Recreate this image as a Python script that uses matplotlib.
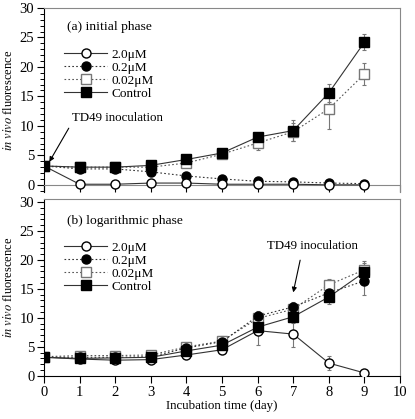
import matplotlib
matplotlib.use('Agg')
import matplotlib.pyplot as plt
from matplotlib.ticker import MultipleLocator

plt.rcParams['font.family'] = ['Liberation Serif', 'DejaVu Serif']
plt.rcParams['mathtext.fontset'] = 'stix'
plt.rcParams['font.size'] = 9

days = [0, 1, 2, 3, 4, 5, 6, 7, 8, 9]
labels = ['2.0\u03bcM', '0.2\u03bcM', '0.02\u03bcM', 'Control']

# (a) initial phase
a_20 = [3.2, 0.1, 0.1, 0.3, 0.3, 0.1, 0.1, 0.1, 0.0, 0.0]
a_02 = [3.2, 2.7, 2.7, 2.2, 1.5, 1.0, 0.6, 0.5, 0.3, 0.2]
a_002 = [3.2, 3.0, 3.0, 3.0, 3.7, 5.2, 7.1, 9.0, 12.9, 18.8]
a_ctl = [3.2, 3.0, 3.0, 3.3, 4.3, 5.4, 8.1, 9.2, 15.6, 24.2]
a_20_err = [0.2, 0.2, 0.2, 0.2, 0.2, 0.2, 0.2, 0.2, 0.2, 0.2]
a_02_err = [0.2, 0.3, 0.3, 0.3, 0.3, 0.4, 0.3, 0.3, 0.3, 0.3]
a_002_err = [0.3, 0.3, 0.3, 0.3, 0.4, 0.6, 1.2, 1.5, 3.4, 1.8]
a_ctl_err = [0.3, 0.3, 0.3, 0.3, 0.4, 0.5, 0.7, 1.8, 1.5, 1.3]

# (b) logarithmic phase
b_20 = [3.2, 2.9, 2.7, 2.8, 3.6, 4.5, 7.8, 7.2, 2.2, 0.5]
b_02 = [3.2, 3.2, 3.2, 3.3, 4.8, 5.9, 10.3, 11.9, 14.3, 16.4]
b_002 = [3.3, 3.5, 3.5, 3.6, 5.0, 6.0, 9.9, 11.5, 15.7, 18.3]
b_ctl = [3.2, 3.0, 3.1, 3.2, 4.3, 5.3, 8.4, 10.2, 13.6, 17.9]
b_20_err = [0.3, 0.4, 0.3, 0.3, 0.5, 0.8, 2.4, 2.2, 1.2, 0.3]
b_02_err = [0.3, 0.4, 0.4, 0.4, 0.6, 0.8, 0.8, 0.8, 1.2, 2.5]
b_002_err = [0.3, 0.4, 0.4, 0.4, 0.6, 0.8, 0.8, 0.8, 1.0, 1.5]
b_ctl_err = [0.3, 0.4, 0.4, 0.4, 0.6, 0.8, 1.0, 1.0, 1.2, 1.5]

styles = [
    dict(marker='o', mfc='white', mec='black', color='#333333', ls='-', ms=6.5, zorder=4),
    dict(marker='o', mfc='black', mec='black', color='#333333', ls=(0, (1.5, 2)), ms=6.5, zorder=3),
    dict(marker='s', mfc='white', mec='#777777', color='#555555', ls=(0, (1.5, 2)), ms=7, zorder=2),
    dict(marker='s', mfc='black', mec='black', color='#333333', ls='-', ms=7.5, zorder=5),
]

fig = plt.figure(figsize=(4.15, 4.19), dpi=100)
ax1 = fig.add_axes([0.106, 0.542, 0.858, 0.439])
ax2 = fig.add_axes([0.106, 0.103, 0.858, 0.422])


def draw(ax, series, errs, title, title_y, leg_y):
    handles = []
    for vals, err, st, lab in zip(series, errs, styles, labels):
        ax.errorbar(days, vals, yerr=err, fmt='none', ecolor='#777777',
                    elinewidth=0.8, capsize=1.5, capthick=0.8, zorder=1)
        h, = ax.plot(days, vals, lw=0.8, label=lab, **st)
        handles.append(h)
    ax.set_xlim(0, 10)
    ax.xaxis.set_major_locator(MultipleLocator(1))
    ax.yaxis.set_major_locator(MultipleLocator(5))
    ax.yaxis.set_minor_locator(MultipleLocator(1))
    ax.tick_params(direction='out', length=5, width=0.8, labelsize=10.5, pad=2)
    ax.tick_params(which='minor', direction='out', length=3, width=0.7)
    ax.tick_params(axis='x', which='minor', length=0)
    for s in ['top', 'right']:
        ax.spines[s].set_color('#888888')
    ax.set_ylabel(r'$\mathit{in\ vivo}$ fluorescence', fontsize=9, labelpad=3)
    ax.text(0.065, title_y, title, transform=ax.transAxes, fontsize=9.7, va='center')
    ax.legend(handles=handles, loc='upper left', bbox_to_anchor=(0.03, leg_y),
              frameon=False, handlelength=3.3, labelspacing=0.05,
              handletextpad=0.3, borderpad=0.2, fontsize=9.5)


draw(ax1, [a_20, a_02, a_002, a_ctl], [a_20_err, a_02_err, a_002_err, a_ctl_err],
     '(a) initial phase', 0.895, 0.828)
ax1.set_ylim(-1.2, 30)
ax1.spines['bottom'].set_position(('data', 0))
ax1.spines['bottom'].set_color('#888888')
ax1.set_xticklabels([])
ax1.annotate('TD49 inoculation', xy=(0.15, 3.9), xytext=(0.78, 11.3),
             fontsize=9.3, va='center',
             arrowprops=dict(arrowstyle='-|>', color='black', lw=0.8,
                             mutation_scale=7, shrinkA=1, shrinkB=0,
                             relpos=(0, 0.1)))

draw(ax2, [b_20, b_02, b_002, b_ctl], [b_20_err, b_02_err, b_002_err, b_ctl_err],
     '(b) logarithmic phase', 0.875, 0.81)
ax2.set_ylim(0, 30.5)
ax2.set_xlabel('Incubation time (day)', fontsize=9.3, labelpad=1)
ax2.annotate('TD49 inoculation', xy=(7.0, 14.4), xytext=(7.55, 22.4),
             fontsize=9.3, ha='center', va='center',
             arrowprops=dict(arrowstyle='-|>', color='black', lw=0.8,
                             mutation_scale=7, shrinkA=4, shrinkB=0,
                             relpos=(0.38, 0)))

fig.savefig('out.png', dpi=100)
